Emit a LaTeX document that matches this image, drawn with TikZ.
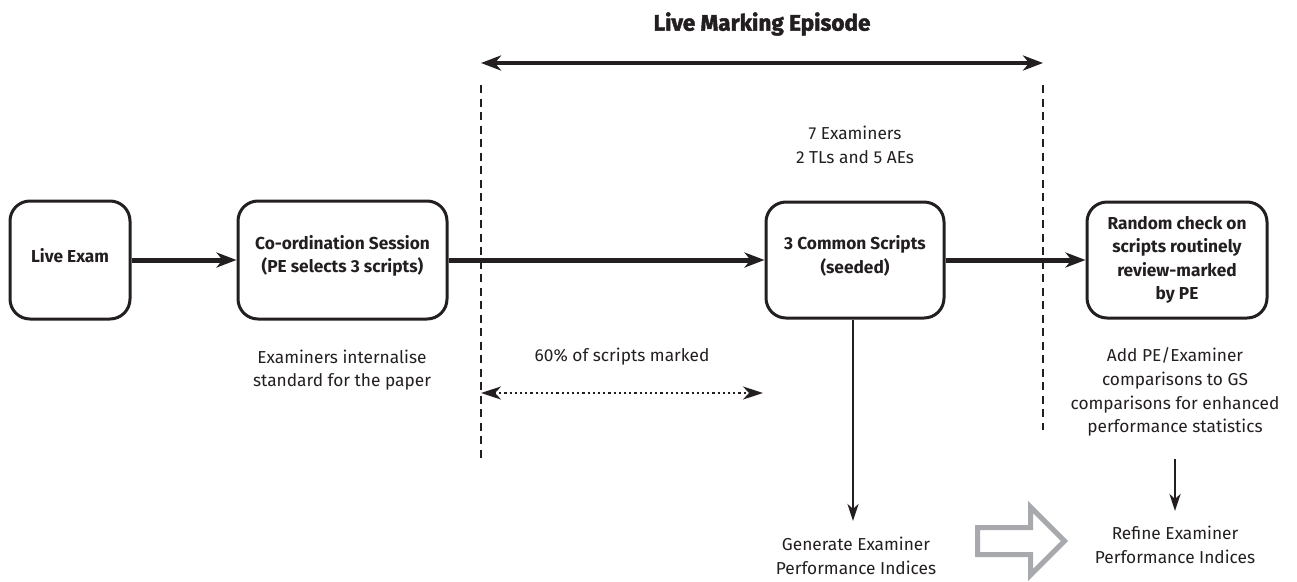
\documentclass[tikz,border=0pt]{standalone}
\usepackage{fontspec}
\setmainfont{Fira Sans}
\newfontfamily\heavyfont{Fira Sans}[BoldFeatures={FakeBold=2}]
\usetikzlibrary{arrows.meta}
\definecolor{ink}{HTML}{231F20}
\definecolor{greyarrow}{HTML}{A7A9AC}
\tikzset{
  stagebox/.style={draw=ink, line width=3pt, rounded corners=20pt, align=center, inner sep=0pt},
  boxtext/.style={align=center, font=\fontsize{17.3}{23.5}\selectfont\bfseries, text=ink, inner sep=0pt},
  note/.style={align=center, font=\fontsize{17.3}{23.8}\selectfont, text=ink, inner sep=0pt},
  flow/.style={draw=ink, line width=5pt, -{Stealth[length=20pt,width=15pt,inset=6pt]}},
  thin arrow/.style={draw=ink, line width=2.5pt, -{Stealth[length=17pt,width=11pt,inset=5pt]}},
  boundary/.style={draw=ink, line width=2.8pt, dash pattern=on 8pt off 5.5pt},
  span/.style={draw=ink, line width=4pt, {Stealth[length=20pt,width=15pt,inset=6pt]}-{Stealth[length=20pt,width=15pt,inset=6pt]}},
  dotspan/.style={draw=ink, line width=2.2pt, dash pattern=on 2.2pt off 3pt, {Stealth[length=20pt,width=13pt,inset=6pt]}-{Stealth[length=20pt,width=13pt,inset=6pt]}}
}
\begin{document}
\begin{tikzpicture}[x=1pt,y=-1pt]
\useasboundingbox (0,0) rectangle (1297,581);
% boxes
\node[stagebox, minimum width=120pt, minimum height=118pt] (exam) at (70,260) {};
\node[stagebox, minimum width=209pt, minimum height=118pt] (coord) at (342.5,260) {};
\node[stagebox, minimum width=178pt, minimum height=116pt] (common) at (855,260) {};
\node[stagebox, minimum width=180pt, minimum height=116pt] (random) at (1177,260) {};
% box texts
\node[boxtext] (examt) at (70,256) {Live Exam};
\node[boxtext] (coordt) at (342.5,256) {Co-ordination Session\\(PE selects 3 scripts)};
\node[boxtext] (commont) at (855,256) {3 Common Scripts\\(seeded)};
\node[boxtext] (randomt) at (1177,260) {Random check on\\scripts routinely\\review-marked\\by PE};
% boundaries
\coordinate (lt) at (481,85);
\coordinate (lb) at (481,458);
\coordinate (rt) at (1043,85);
\coordinate (rb) at (1043,430);
\draw[boundary] (lt) -- (lb);
\draw[boundary] (rt) -- (rb);
% title and span
\node[boxtext, font=\fontsize{22.5}{26}\heavyfont\bfseries] (title) at (762,24) {Live Marking Episode};
\coordinate (sl) at (481,63);
\coordinate (sr) at (1043,63);
\draw[span] (sl) -- (sr);
% flow arrows
\draw[flow] (exam.east) -- (coord.west);
\draw[flow] (coord.east) -- (common.west);
\draw[flow] (common.east) -- (random.west);
% notes
\node[note] (examiners) at (855,145) {7 Examiners\\2 TLs and 5 AEs};
\node[note] (internal) at (342,370) {Examiners internalise\\standard for the paper};
\node[note] (sixty) at (622,357) {60\% of scripts marked};
\coordinate (dl) at (481,393);
\coordinate (dr) at (763,393);
\draw[dotspan] (dl) -- (dr);
\node[note] (addpe) at (1175,392) {Add PE/Examiner\\comparisons to GS\\comparisons for enhanced\\performance statistics};
\node[note] (generate) at (856,556) {Generate Examiner\\Performance Indices};
\node[note] (refine) at (1175,545) {Refine Examiner\\Performance Indices};
\draw[thin arrow] (common.south -| 853,0) -- (853,521);
\draw[thin arrow] (1175,459) -- (1175,511);
% hollow grey arrow
\draw[greyarrow, line width=5pt, line join=miter]
  (977.5,527.5) -- (1030.5,527.5) -- (1030.5,507) -- (1064.5,541) -- (1030.5,575) -- (1030.5,554.5) -- (977.5,554.5) -- cycle;
\end{tikzpicture}
\end{document}
